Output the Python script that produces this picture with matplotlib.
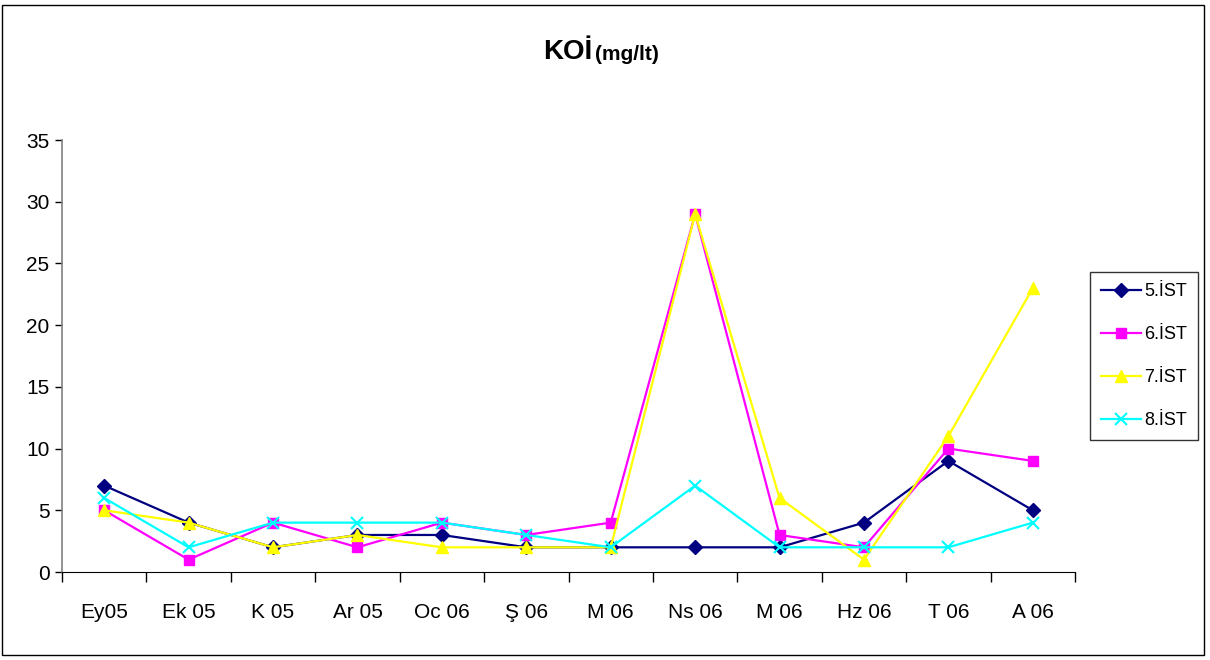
import matplotlib
matplotlib.use("Agg")
import matplotlib.pyplot as plt
from matplotlib.patches import Rectangle
from matplotlib.font_manager import fontManager

# Months on the x axis
categories = ["Ey05", "Ek 05", "K 05", "Ar 05", "Oc 06", "Ş 06",
              "M 06", "Ns 06", "M 06", "Hz 06", "T 06", "A 06"]

# KOİ values (mg/lt) for each station
ist5 = [7, 4, 2, 3, 3, 2, 2, 2, 2, 4, 9, 5]
ist6 = [5, 1, 4, 2, 4, 3, 4, 29, 3, 2, 10, 9]
ist7 = [5, 4, 2, 3, 2, 2, 2, 29, 6, 1, 11, 23]
ist8 = [6, 2, 4, 4, 4, 3, 2, 7, 2, 2, 2, 4]

series_names = ["5.İST", "6.İST", "7.İST", "8.İST"]
y_ticks = [0, 5, 10, 15, 20, 25, 30, 35]

available = {f.name for f in fontManager.ttflist}
family = [f for f in ["Liberation Sans Narrow", "Liberation Sans", "DejaVu Sans"] if f in available]
plt.rcParams["font.family"] = family

fig = plt.figure(figsize=(12.1, 6.6), dpi=100)
ax = fig.add_axes([62 / 1210, 88 / 660, (1075 - 62) / 1210, (572 - 140) / 660])

styles = [
    dict(color="#000080", marker="D", markersize=7),
    dict(color="#FF00FF", marker="s", markersize=7),
    dict(color="#FFFF00", marker="^", markersize=8),
    dict(color="#00FFFF", marker="x", markersize=9, markeredgewidth=1.5),
]

x = list(range(len(categories)))
for vals, name, st in zip([ist5, ist6, ist7, ist8], series_names, styles):
    ax.plot(x, vals, label=name, linewidth=1.6, **st)

ax.set_xlim(-0.5, len(categories) - 0.5)
ax.set_ylim(0, 35)
ax.set_yticks(y_ticks)
ax.set_yticklabels([str(v) for v in y_ticks], fontsize=15)
ax.set_xticks(x)
ax.set_xticklabels(categories, fontsize=15)
ax.tick_params(axis="x", which="major", length=0, pad=22)
ax.set_xticks([i - 0.5 for i in range(len(categories) + 1)], minor=True)
ax.tick_params(axis="x", which="minor", length=7, direction="out", width=1)
ax.tick_params(axis="y", length=5, direction="out", width=1, pad=4)

for s in ["top", "right"]:
    ax.spines[s].set_visible(False)
ax.spines["left"].set_color("#808080")
ax.spines["left"].set_linewidth(1.2)
ax.spines["bottom"].set_color("black")

# Title: large bold "KOİ" with smaller unit text
fig.text(592 / 1210, 1 - 52 / 660, "KOİ", fontsize=20, fontweight="bold",
         ha="right", va="center")
fig.text(595 / 1210, 1 - 55 / 660, "(mg/lt)", fontsize=15, fontweight="bold",
         ha="left", va="center")

leg = fig.legend(loc="upper left", bbox_to_anchor=(1090 / 1210, 1 - 272 / 660),
                 fontsize=13, frameon=True, fancybox=False, edgecolor="black",
                 handlelength=2.2, labelspacing=1.45, borderpad=0.6,
                 handletextpad=0.2, borderaxespad=0)
leg.get_frame().set_linewidth(1.0)

# Outer chart border
fig.patches.append(Rectangle((2 / 1210, 5 / 660), 1202 / 1210, 650 / 660,
                             transform=fig.transFigure, fill=False,
                             edgecolor="black", linewidth=1.0))

fig.savefig("out.png", dpi=100)
